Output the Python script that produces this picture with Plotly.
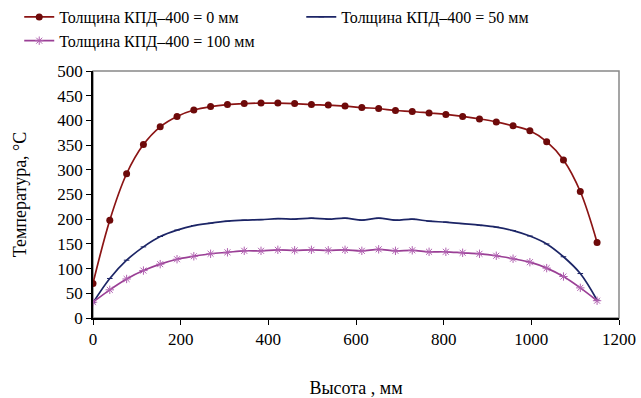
import plotly.graph_objects as go

x_mm = [0, 38.3, 76.7, 115, 153.3, 191.7, 230, 268.3, 306.7, 345, 383.3, 421.7, 460, 498.3, 536.7, 575,
        613.3, 651.7, 690, 728.3, 766.7, 805, 843.3, 881.7, 920, 958.3, 996.7, 1035, 1073.3, 1111.7, 1150]

t_0 = [70, 198, 292, 351, 387, 408, 421, 428, 432, 434, 435, 435, 434, 432, 431, 429,
       426, 424, 420, 418, 415, 412, 408, 403, 397, 389, 379, 357, 320, 256, 153]
t_50 = [31, 80, 117, 144, 165, 178, 187, 192, 196, 198, 199, 201, 200, 202, 200, 202,
        198, 202, 198, 200, 196, 194, 191, 188, 184, 177, 166, 150, 124, 90, 36]
t_100 = [32, 57, 79, 96, 109, 119, 125, 130, 133, 136, 136, 138, 137, 138, 137, 138,
         136, 139, 136, 137, 134, 134, 132, 130, 126, 120, 113, 101, 84, 61, 35]

names = ["Толщина КПД–400 = 0 мм", "Толщина КПД–400 = 50 мм", "Толщина КПД–400 = 100 мм"]

font = "Liberation Serif"

fig = go.Figure()
fig.add_trace(go.Scatter(x=x_mm, y=t_0, name=names[0], mode="lines+markers", legend="legend",
                         line=dict(color="#8b1414", width=1.7, shape="spline"),
                         marker=dict(symbol="circle", size=7, color="#6e0a0a")))
fig.add_trace(go.Scatter(x=x_mm, y=t_50, name=names[1], mode="lines+markers", legend="legend2",
                         line=dict(color="#1c2566", width=1.7, shape="spline"),
                         marker=dict(symbol="line-ew-open", size=4, color="#1c2566",
                                     line=dict(width=1, color="#1c2566"))))
fig.add_trace(go.Scatter(x=x_mm, y=t_100, name=names[2], mode="lines+markers", legend="legend",
                         line=dict(color="#9a3f95", width=1.7, shape="spline"),
                         marker=dict(symbol="asterisk-open", size=7, color="#b060b0",
                                     line=dict(width=1, color="#b060b0"))))

leg_common = dict(xref="container", yref="container", yanchor="top", xanchor="left",
                  orientation="h", entrywidth=300, entrywidthmode="pixels",
                  font=dict(size=16, family=font, color="black"), tracegroupgap=0,
                  itemwidth=30, bgcolor="rgba(0,0,0,0)")

fig.update_layout(
    width=641, height=398,
    margin=dict(l=93, r=22, t=71, b=80, autoexpand=False),
    paper_bgcolor="white", plot_bgcolor="white",
    font=dict(family=font, size=16, color="black"),
    showlegend=True,
    legend=dict(x=0.03, y=1.0, **leg_common),
    legend2=dict(x=0.47, y=1.0, **leg_common),
    xaxis=dict(range=[0, 1200], tickvals=[0, 200, 400, 600, 800, 1000, 1200],
               showgrid=False, zeroline=False, showline=True, linecolor="black", linewidth=1.5,
               ticks="outside", ticklen=5, tickcolor="black",
               tickfont=dict(family=font, size=17),
               title=dict(text="Высота , мм", standoff=33, font=dict(size=18, family=font))),
    yaxis=dict(range=[0, 500], tickvals=list(range(0, 501, 50)),
               showgrid=False, zeroline=False, showline=True, linecolor="black", linewidth=1.5,
               ticks="outside", ticklen=5, tickcolor="black",
               tickfont=dict(family=font, size=17),
               title=dict(text="Температура, °С", standoff=26, font=dict(size=18, family=font))),
)
fig.add_shape(type="rect", xref="paper", yref="paper", x0=0, x1=1, y0=0, y1=1,
              line=dict(color="#888888", width=1.5), layer="below")

fig.write_html("out.html")
